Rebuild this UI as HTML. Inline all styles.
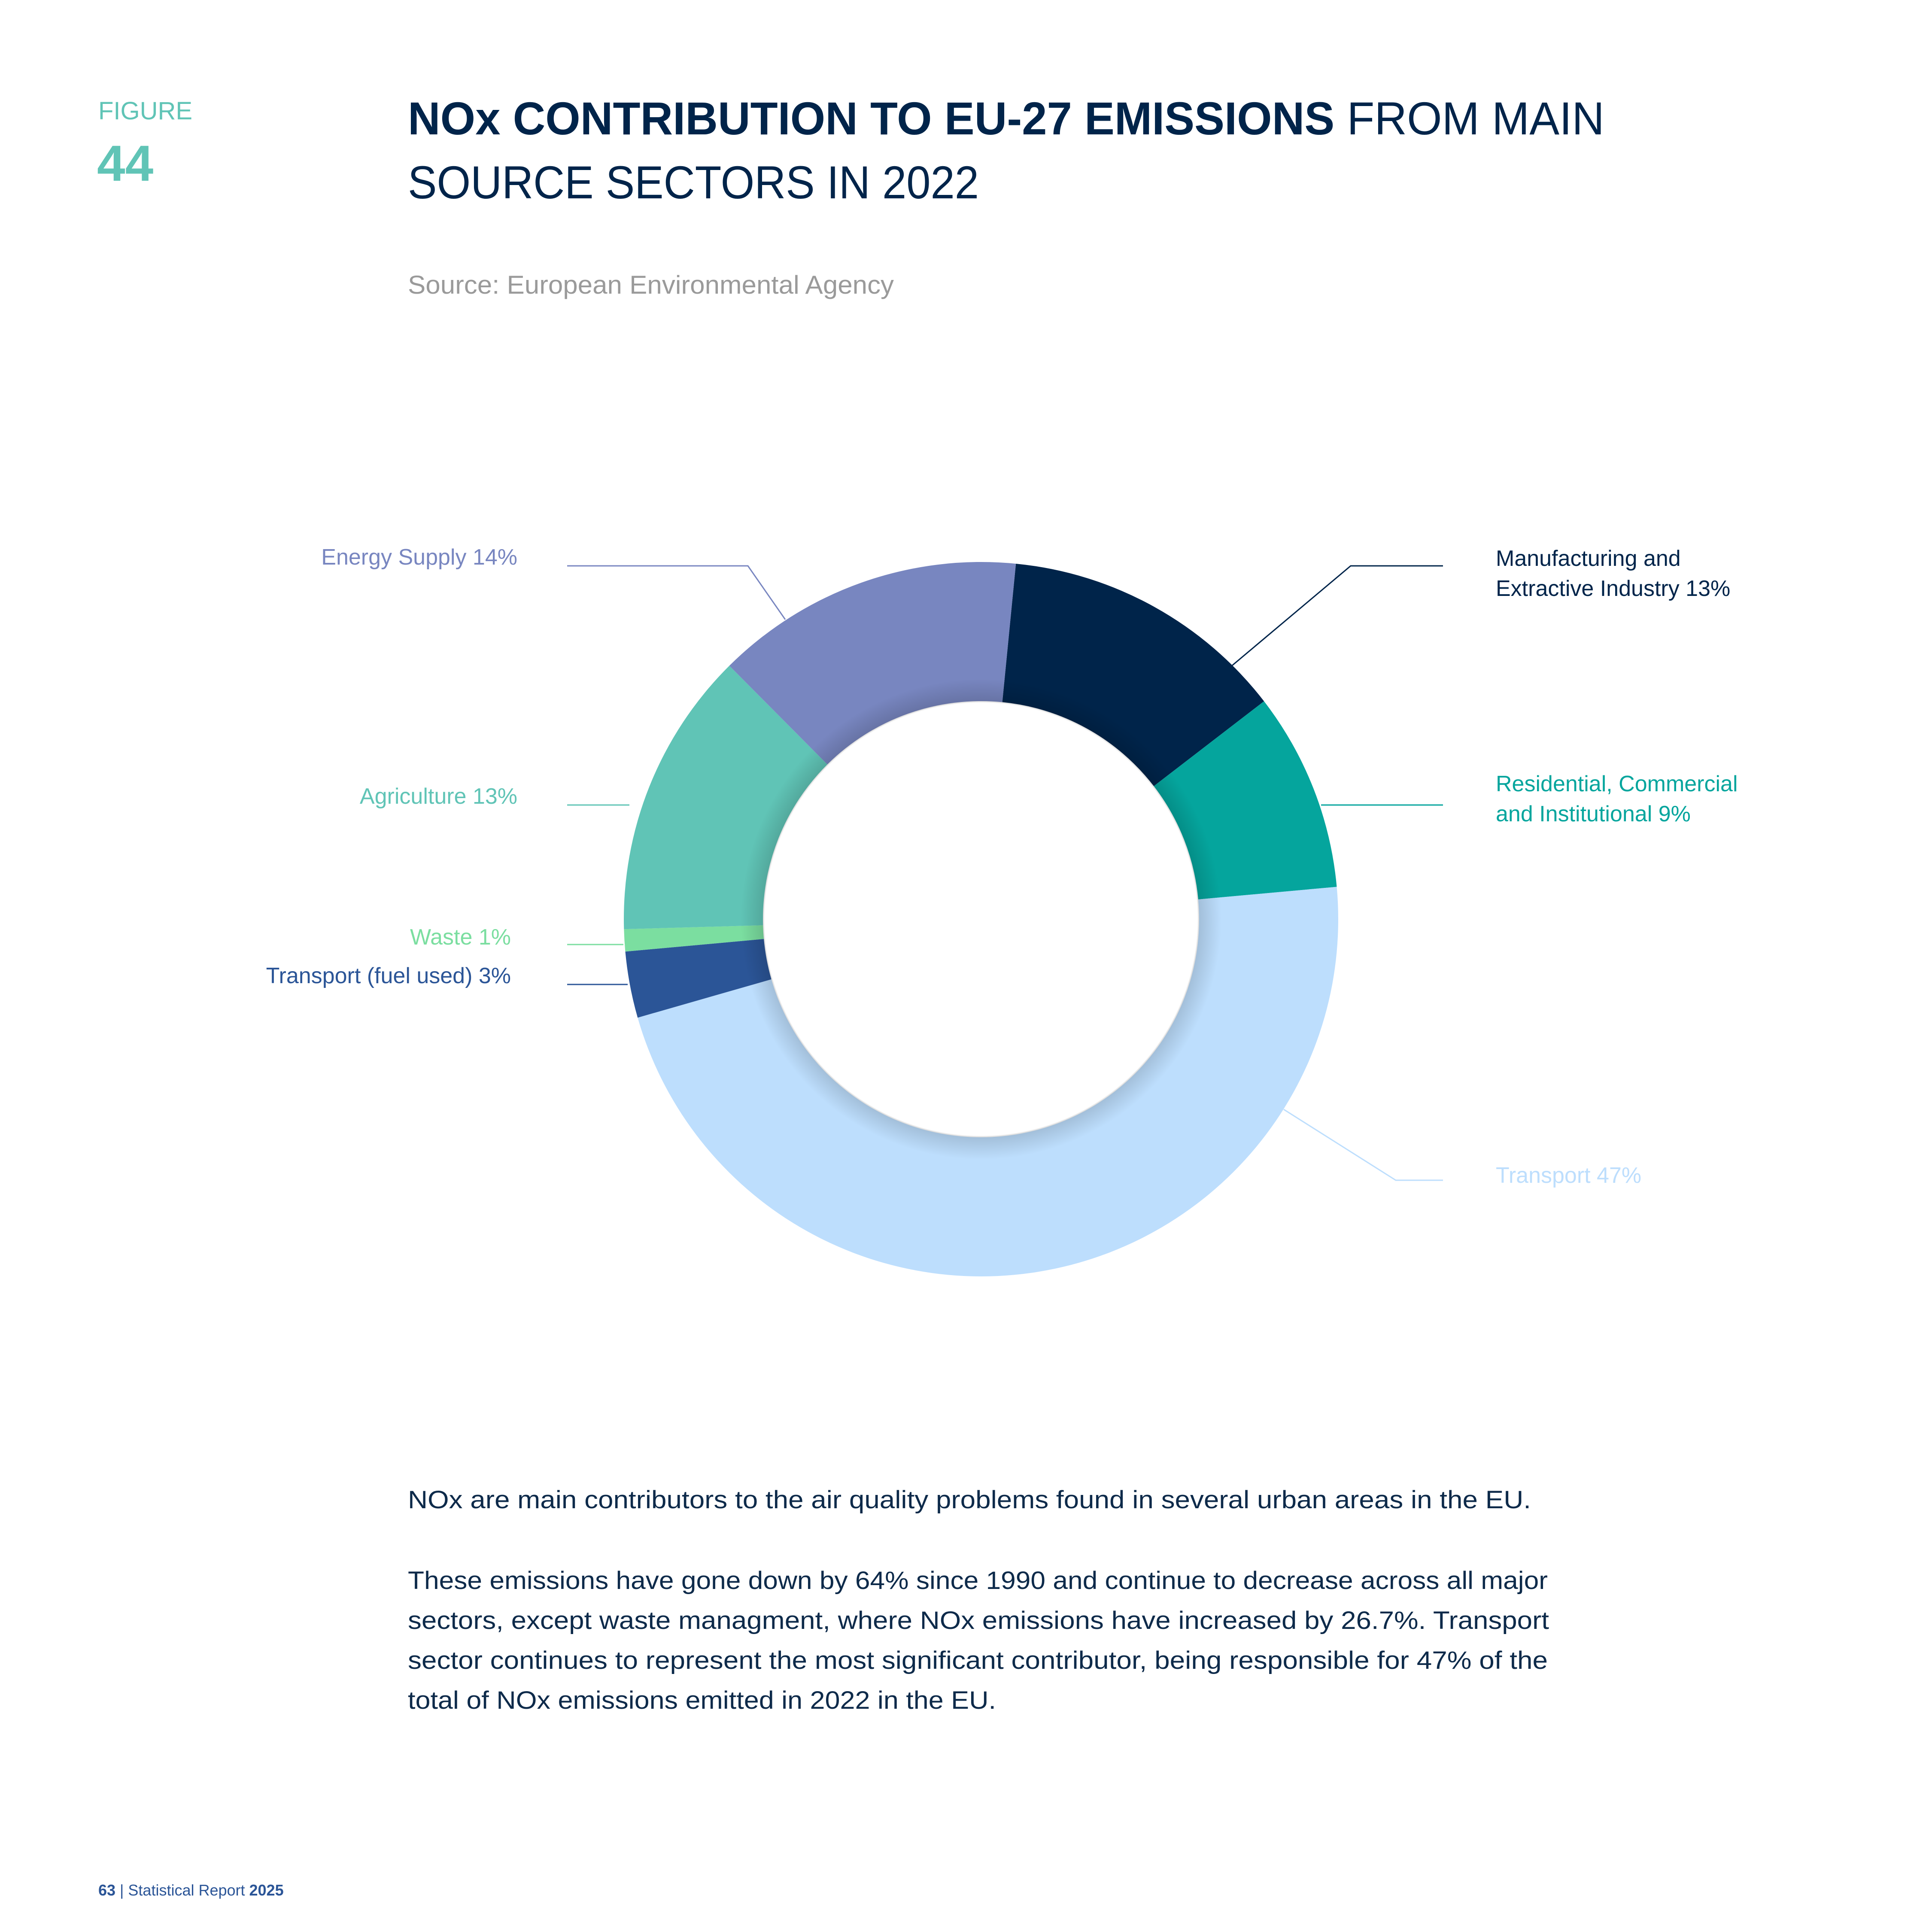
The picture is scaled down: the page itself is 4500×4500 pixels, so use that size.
<!DOCTYPE html>
<html><head><meta charset="utf-8"><style>
html,body{margin:0;padding:0;background:#fff;}
svg{display:block;font-family:"Liberation Sans",sans-serif;}
</style></head><body>
<svg id="chart" width="4500" height="4500" viewBox="0 0 4500 4500" xmlns="http://www.w3.org/2000/svg">
<defs>
<radialGradient id="holeShade" cx="2285" cy="2141" r="560" gradientUnits="userSpaceOnUse">
<stop offset="0.9" stop-color="#000" stop-opacity="0"/>
<stop offset="0.906" stop-color="#000" stop-opacity="0.14"/>
<stop offset="1" stop-color="#000" stop-opacity="0"/>
</radialGradient>
</defs>
<text x="229" y="278" font-size="58" fill="#60c4b6">FIGURE</text>
<text x="226" y="421" font-size="118" font-weight="bold" fill="#60c4b6">44</text>
<text x="950" y="313" font-size="108" fill="#00244a" textLength="2787" lengthAdjust="spacingAndGlyphs"><tspan font-weight="bold">NOx CONTRIBUTION TO EU-27 EMISSIONS</tspan> FROM MAIN</text>
<text x="950" y="462" font-size="108" fill="#00244a" textLength="1330" lengthAdjust="spacingAndGlyphs">SOURCE SECTORS IN 2022</text>
<text x="950" y="684" font-size="60" fill="#9a9a9a" textLength="1132" lengthAdjust="spacingAndGlyphs">Source: European Environmental Agency</text>
<g id="donut"></g>
<circle cx="2285" cy="2141" r="560" fill="url(#holeShade)"/>
<g id="labels">
<polyline points="1321,1318 1742,1318 1829,1443" fill="none" stroke="#7886c0" stroke-width="3"/>
<text x="1205" y="1315" text-anchor="end" font-size="52" fill="#7886c0">Energy Supply 14%</text>
<polyline points="1321,1875 1466,1875" fill="none" stroke="#60c4b6" stroke-width="3"/>
<text x="1205" y="1872" text-anchor="end" font-size="52" fill="#60c4b6">Agriculture 13%</text>
<polyline points="1321,2200 1452,2200" fill="none" stroke="#7bdea0" stroke-width="3"/>
<text x="1190" y="2200" text-anchor="end" font-size="52" fill="#7bdea0">Waste 1%</text>
<polyline points="1321,2293 1462,2293" fill="none" stroke="#2b5597" stroke-width="3"/>
<text x="1190" y="2290" text-anchor="end" font-size="52" fill="#2b5597">Transport (fuel used) 3%</text>
<polyline points="3361,1318 3146,1318 2870,1550" fill="none" stroke="#00244a" stroke-width="3"/>
<text x="3484" y="1318" font-size="52" fill="#00244a"><tspan x="3484">Manufacturing and</tspan><tspan x="3484" dy="70">Extractive Industry 13%</tspan></text>
<polyline points="3077,1875 3361,1875" fill="none" stroke="#05a59d" stroke-width="3"/>
<text x="3484" y="1843" font-size="52" fill="#05a59d"><tspan x="3484">Residential, Commercial</tspan><tspan x="3484" dy="70">and Institutional 9%</tspan></text>
<polyline points="2990,2584 3251,2749 3361,2749" fill="none" stroke="#bddefd" stroke-width="3"/>
<text x="3484" y="2755" font-size="52" fill="#bddefd">Transport 47%</text>
</g>
<g font-size="58" fill="#0d2a4a">
<text x="950" y="3513" textLength="2616" lengthAdjust="spacingAndGlyphs">NOx are main contributors to the air quality problems found in several urban areas in the EU.</text>
<text x="950" y="3701" textLength="2655" lengthAdjust="spacingAndGlyphs">These emissions have gone down by 64% since 1990 and continue to decrease across all major</text>
<text x="950" y="3794" textLength="2658" lengthAdjust="spacingAndGlyphs">sectors, except waste managment, where NOx emissions have increased by 26.7%. Transport</text>
<text x="950" y="3887" textLength="2655" lengthAdjust="spacingAndGlyphs">sector continues to represent the most significant contributor, being responsible for 47% of the</text>
<text x="950" y="3980" textLength="1370" lengthAdjust="spacingAndGlyphs">total of NOx emissions emitted in 2022 in the EU.</text>
</g>
<text x="229" y="4415" font-size="36" fill="#2b5597"><tspan font-weight="bold">63</tspan> | Statistical Report <tspan font-weight="bold">2025</tspan></text>
</svg>
<script>
const categories = ["Manufacturing and Extractive Industry","Residential, Commercial and Institutional","Transport","Transport (fuel used)","Waste","Agriculture","Energy Supply"];
const values = [13, 9, 47, 3, 1, 13, 14];
const colors = ["#00244a","#05a59d","#bddefd","#2b5597","#7bdea0","#60c4b6","#7886c0"];
const slugs = ["manufacturing","residential","transport","transport-fuel","waste","agriculture","energy-supply"];
(function(){
  const cx=2285, cy=2141, R=832, r=508, startDeg=5.6;
  const total = values.reduce((a,b)=>a+b,0);
  const g=document.getElementById('donut');
  const ns="http://www.w3.org/2000/svg";
  function pt(deg,rad){const a=deg*Math.PI/180;return [cx+rad*Math.sin(a), cy-rad*Math.cos(a)];}
  let cur=startDeg;
  values.forEach((v,i)=>{
    const sweep=v/total*360, end=cur+sweep, large=sweep>180?1:0;
    const p1=pt(cur,R), p2=pt(end,R), p3=pt(end,r), p4=pt(cur,r);
    const d=`M${p1[0]},${p1[1]} A${R},${R} 0 ${large} 1 ${p2[0]},${p2[1]} L${p3[0]},${p3[1]} A${r},${r} 0 ${large} 0 ${p4[0]},${p4[1]} Z`;
    const path=document.createElementNS(ns,'path');
    path.setAttribute('d',d);
    path.setAttribute('fill',colors[i]);
    
    
    g.appendChild(path);
    cur=end;
  });
})();
</script>
</body></html>
